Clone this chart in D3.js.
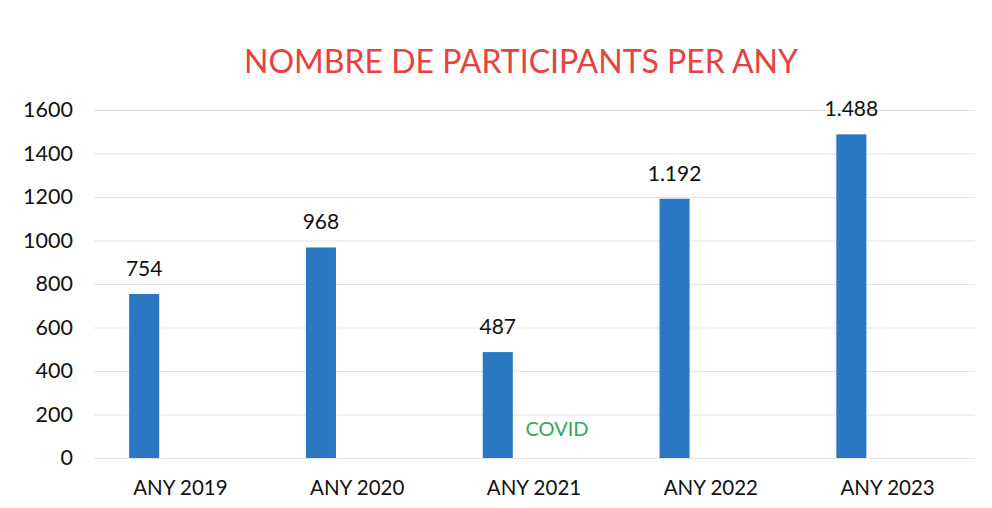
<!DOCTYPE html>
<html>
<head>
<meta charset="utf-8">
<script src="https://cdn.jsdelivr.net/npm/d3@7"></script>
<style>
  body { margin: 0; background: #fff; }
  svg text { font-family: Lato, "Open Sans", sans-serif; }
</style>
</head>
<body>
<div id="graphic"></div>
<script>
// chart data
const years = ["ANY 2019", "ANY 2020", "ANY 2021", "ANY 2022", "ANY 2023"];
const participants = [754, 968, 487, 1192, 1488];
const yTicks = [0, 200, 400, 600, 800, 1000, 1200, 1400, 1600];
const titleText = "NOMBRE DE PARTICIPANTS PER ANY";
const noteText = "COVID";
const noteYear = "ANY 2021";

const width = 992, height = 508;
const margin = { top: 110, right: 16, bottom: 50, left: 92 };

// catalan style thousands separator
const locale = d3.formatLocale({ decimal: ",", thousands: ".", grouping: [3], currency: ["", "€"] });
const fmt = locale.format(",d");

const svg = d3.select('#graphic').append('svg')
  .attr('width', width)
  .attr('height', height);

const x = d3.scaleBand()
  .domain(years)
  .range([margin.left, width - margin.right]);

const y = d3.scaleLinear()
  .domain([0, 1600])
  .range([height - margin.bottom, margin.top]);

// gridlines
svg.append('g').attr('class', 'grid')
  .selectAll('line')
  .data(yTicks)
  .join('line')
  .attr('x1', margin.left + 2)
  .attr('x2', width - margin.right - 1)
  .attr('y1', d => y(d) + 0.5)
  .attr('y2', d => y(d) + 0.5)
  .attr('stroke', '#e3e3e3')
  .attr('stroke-width', 1.2);

// y axis labels
svg.append('g')
  .attr('transform', 'translate(' + (margin.left - 19) + ',0)')
  .call(d3.axisLeft(y).tickValues(yTicks).tickFormat(d3.format('d')).tickSize(0).tickPadding(0))
  .call(g => g.select('.domain').remove())
  .selectAll('text')
  .attr('font-size', 21.5)
  .attr('fill', '#111')
  .style('font-family', 'Lato, "Open Sans", sans-serif');

// x axis labels
svg.append('g')
  .attr('transform', 'translate(0,' + (height - margin.bottom) + ')')
  .call(d3.axisBottom(x).tickSize(0).tickPadding(22))
  .call(g => g.select('.domain').remove())
  .selectAll('text')
  .attr('font-size', 20.5)
  .attr('fill', '#111')
  .style('font-family', 'Lato, "Open Sans", sans-serif');

const data = years.map((d, i) => ({ year: d, value: participants[i] }));
const barOffset = x.bandwidth() * 0.21;
const barWidth = x.bandwidth() * 0.17;

// bars
svg.append('g').attr('id', 'bars')
  .selectAll('rect')
  .data(data)
  .join('rect')
  .attr('x', d => x(d.year) + barOffset)
  .attr('width', barWidth)
  .attr('y', d => y(d.value))
  .attr('height', d => y(0) - y(d.value))
  .attr('fill', '#2a78c2');

// value labels
svg.append('g')
  .selectAll('text')
  .data(data)
  .join('text')
  .attr('x', d => x(d.year) + barOffset + barWidth / 2)
  .attr('y', d => y(d.value) - 18)
  .attr('text-anchor', 'middle')
  .attr('font-size', 21)
  .attr('fill', '#111')
  .text(d => fmt(d.value));

// covid note
svg.append('text')
  .attr('x', x(noteYear) + x.bandwidth() * 0.63)
  .attr('y', y(100))
  .attr('text-anchor', 'middle')
  .attr('font-size', 20)
  .attr('fill', '#35a856')
  .text(noteText);

// title
svg.append('text')
  .attr('x', 521)
  .attr('y', 73)
  .attr('text-anchor', 'middle')
  .attr('font-size', 32)
  .attr('fill', '#e8423c')
  .text(titleText);
</script>
</body>
</html>
